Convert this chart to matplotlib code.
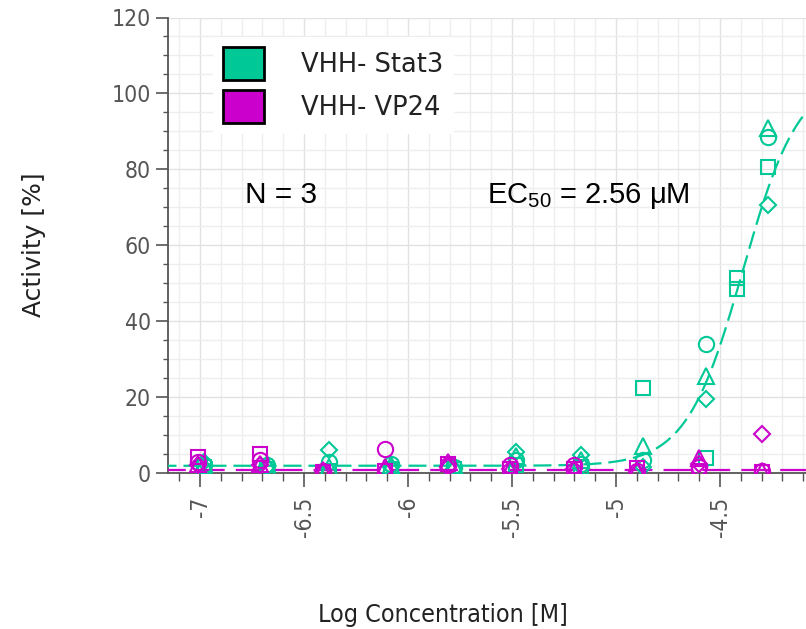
import numpy as np
import matplotlib
matplotlib.use('Agg')
import matplotlib.pyplot as plt
from matplotlib.patches import Patch
from matplotlib.ticker import MultipleLocator

plt.rcParams['mathtext.fontset'] = 'custom'
plt.rcParams['mathtext.rm'] = 'Liberation Sans'
plt.rcParams['lines.scale_dashes'] = False

# log concentrations (M)
x_vp24 = [-7.01, -6.71, -6.41, -6.11, -5.81, -5.51, -5.20, -4.90, -4.60, -4.30]
x_stat3 = [-6.98, -6.68, -6.38, -6.08, -5.78, -5.48, -5.17, -4.87, -4.57, -4.42, -4.27]

nan = np.nan
# VHH-Stat3 replicates (activity %)
stat3_circle = [2, 2, 3, 2.5, 1.5, 3.5, 2.5, 3.5, 34, nan, 88.5]
stat3_triangle = [2.5, 2.5, 1.5, 2, 2, 4.5, 3.5, 7, 25.5, nan, 91]
stat3_square = [1.5, 1, 0.5, 1, 1, 2, 1.5, 22.5, 4, 51.5, 80.5]
stat3_square2 = [nan, nan, nan, nan, nan, nan, nan, nan, nan, 48.5, nan]
stat3_diamond = [3, 1.5, 6, 1.5, 1, 5.5, 4.7, 1.5, 19.5, nan, 70.5]

# VHH-VP24 replicates (activity %)
vp24_circle = [3, 3.5, 0.5, 6.2, 2, 2.1, 2, 0.5, 1.5, 0.5]
vp24_triangle = [2.5, 2.5, 0.8, 1.5, 3, 1, 1, 0.8, 4, 0.5]
vp24_square = [4.3, 5, 0.3, 0.5, 2.3, 1, 1, 1.3, 0.5, 0.3]
vp24_diamond = [2, 2, 0.5, 0.8, 1.5, 1, 1, 0.3, 2.5, 10.3]

# fitted curves (4PL): bottom, top, logEC50, hill
stat3_fit = (1.9, 105.0, -4.39, 3.2)
vp24_fit = (0.8, 0.8, -4.39, 1.0)

teal = '#00c896'
magenta = '#cc00cc'


def four_pl(x, bottom, top, logec, hill):
    return bottom + (top - bottom) / (1 + 10 ** ((logec - x) * hill))


fig = plt.figure(figsize=(8.06, 6.29), dpi=100)
ax = fig.add_axes([168 / 806, 1 - 473 / 629, 1 - 168 / 806, (473 - 17.5) / 629])

xs = np.linspace(-7.2, -4.0, 400)
ax.plot(xs, four_pl(xs, *stat3_fit), color=teal, lw=1.6, dashes=(13, 5), zorder=3)
ax.plot(xs, four_pl(xs, *vp24_fit), color=magenta, lw=1.6, dashes=(20, 8), zorder=3)

mk = dict(ls='none', mfc='none', mew=1.5, zorder=4)
ax.plot(x_stat3, stat3_circle, marker='o', ms=11, mec=teal, **mk)
ax.plot(x_stat3, stat3_triangle, marker='^', ms=11, mec=teal, **mk)
ax.plot(x_stat3, stat3_square, marker='s', ms=10.5, mec=teal, **mk)
ax.plot(x_stat3, stat3_square2, marker='s', ms=10.5, mec=teal, **mk)
ax.plot(x_stat3, stat3_diamond, marker='D', ms=8.5, mec=teal, **mk)

ax.plot(x_vp24, vp24_circle, marker='o', ms=11, mec=magenta, **mk)
ax.plot(x_vp24, vp24_triangle, marker='^', ms=11, mec=magenta, **mk)
ax.plot(x_vp24, vp24_square, marker='s', ms=10.5, mec=magenta, **mk)
ax.plot(x_vp24, vp24_diamond, marker='D', ms=8.5, mec=magenta, **mk)

ax.set_xlim(-7.154, -4.087)
ax.set_ylim(0, 120)
ax.xaxis.set_major_locator(MultipleLocator(0.5))
ax.xaxis.set_minor_locator(MultipleLocator(0.1))
ax.yaxis.set_major_locator(MultipleLocator(20))
ax.yaxis.set_minor_locator(MultipleLocator(5))
ax.grid(which='major', color='#e2e2e2', lw=1.0, zorder=0)
ax.grid(which='minor', color='#eeeeee', lw=1.0, zorder=0)
ax.set_axisbelow(True)

for s in ['top', 'right']:
    ax.spines[s].set_visible(False)
for s in ['left', 'bottom']:
    ax.spines[s].set_color('#555555')
    ax.spines[s].set_linewidth(1.3)

ax.tick_params(axis='x', which='major', length=10, width=1.2, color='#555555',
               pad=7, labelsize=16.5, labelcolor='#555555', labelrotation=90)
ax.tick_params(axis='x', which='minor', length=6, width=1.0, color='#555555')
ax.tick_params(axis='y', which='major', length=8.5, width=1.2, color='#555555',
               pad=4, labelsize=16.5, labelcolor='#555555')
ax.tick_params(axis='y', which='minor', length=3.6, width=1.0, color='#555555')
ax.set_xticklabels([f'{t:g}' for t in ax.get_xticks()])
for lab in ax.get_xticklabels():
    lab.set_va('top')
    lab.set_ha('center')
for lab in ax.get_xticklabels() + ax.get_yticklabels():
    lab.set_fontstretch('condensed')

fig.text(443 / 806, 1 - 622 / 629, 'Log Concentration [M]', ha='center',
         va='baseline', fontsize=18, color='#222222', fontstretch='condensed')
fig.text(33.5 / 806, 1 - 245 / 629, 'Activity [%]', ha='center', va='center',
         rotation=90, fontsize=18, color='#222222')

ax.text(-6.784, 71.1, 'N = 3', fontsize=21.5, family='Liberation Sans',
        va='baseline', zorder=5)
ax.text(-5.62, 71.1, 'EC$_{50}$ = 2.56 \u03bcM', fontsize=21, family='Liberation Sans',
        va='baseline', zorder=5)

handles = [Patch(facecolor=teal, edgecolor='black', lw=2),
           Patch(facecolor=magenta, edgecolor='black', lw=2)]
leg = ax.legend(handles, ['VHH- Stat3', 'VHH- VP24'], loc='upper left',
                bbox_to_anchor=(0.05, 0.985), fontsize=18.5, handlelength=1.6,
                handleheight=1.6, handletextpad=1.45, labelspacing=0.38,
                frameon=True, fancybox=False, framealpha=1, edgecolor='none',
                facecolor='white', borderpad=0.4)
for t in leg.get_texts():
    t.set_color('#222222')

fig.savefig('out.png', dpi=100)
